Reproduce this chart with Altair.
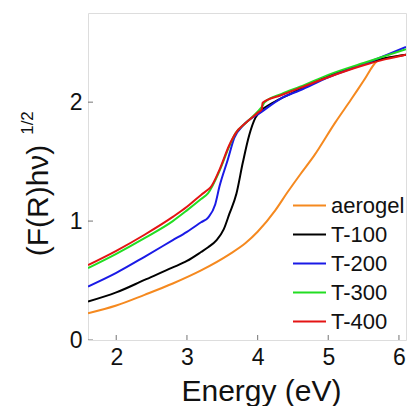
import altair as alt
import pandas as pd

# ---- data ----
series_names = ["aerogel", "T-100", "T-200", "T-300", "T-400"]
series_colors = ["#f5891f", "#000000", "#1a1ae6", "#22dd22", "#e41414"]

aerogel_e = [1.6, 2.0, 2.4, 2.8, 3.2, 3.6, 3.83, 4.0, 4.25, 4.42, 4.6, 4.8, 5.1, 5.32, 5.5, 5.69, 5.8, 5.95, 6.1]
aerogel_v = [0.225, 0.29, 0.38, 0.475, 0.585, 0.72, 0.815, 0.91, 1.09, 1.24, 1.39, 1.55, 1.83, 2.02, 2.18, 2.345, 2.37, 2.385, 2.40]

t100_e = [1.6, 2.0, 2.4, 2.8, 3.0, 3.2, 3.3, 3.42, 3.52, 3.6, 3.7, 3.79, 3.88, 3.97, 4.05, 4.2, 4.5, 5.0, 5.5, 5.8, 6.1]
t100_v = [0.323, 0.40, 0.505, 0.61, 0.665, 0.74, 0.78, 0.84, 0.93, 1.06, 1.23, 1.49, 1.72, 1.87, 1.93, 1.99, 2.08, 2.22, 2.32, 2.37, 2.40]

t200_e = [1.6, 2.0, 2.4, 2.8, 3.0, 3.2, 3.3, 3.4, 3.46, 3.58, 3.67, 3.79, 4.06, 4.34, 4.6, 5.0, 5.5, 6.1]
t200_v = [0.45, 0.565, 0.70, 0.84, 0.91, 0.99, 1.03, 1.14, 1.29, 1.52, 1.70, 1.80, 1.92, 2.035, 2.10, 2.21, 2.32, 2.465]

t300_e = [1.6, 2.0, 2.4, 2.8, 3.0, 3.2, 3.3, 3.46, 3.6, 3.69, 3.83, 4.0, 4.07, 4.1, 4.34, 4.6, 5.0, 5.5, 6.1]
t300_v = [0.605, 0.725, 0.857, 1.0, 1.09, 1.185, 1.235, 1.42, 1.63, 1.74, 1.825, 1.92, 1.97, 2.0, 2.07, 2.13, 2.23, 2.33, 2.445]

t400_e = [1.6, 2.0, 2.4, 2.8, 3.0, 3.2, 3.3, 3.33, 3.46, 3.6, 3.69, 3.83, 4.0, 4.06, 4.07, 4.34, 4.6, 5.0, 5.5, 5.8, 6.1]
t400_v = [0.63, 0.75, 0.885, 1.035, 1.12, 1.22, 1.265, 1.28, 1.43, 1.64, 1.74, 1.825, 1.91, 1.94, 1.995, 2.06, 2.12, 2.21, 2.31, 2.36, 2.40]

x_ticks = [2, 3, 4, 5, 6]
y_ticks = [0, 1, 2]
x_title = "Energy (eV)"
y_title = "(F(R)hν)"
y_title_sup = ["1/2"]

# ---- build table ----
rows = []
for name, es, vs in zip(series_names,
                        [aerogel_e, t100_e, t200_e, t300_e, t400_e],
                        [aerogel_v, t100_v, t200_v, t300_v, t400_v]):
    for i, (e, v) in enumerate(zip(es, vs)):
        rows.append({"series": name, "E": e, "V": v, "i": i})
df = pd.DataFrame(rows)

FONT = "Liberation Sans"
FRAME = "#5a5a5a"
xs = alt.Scale(domain=[1.6, 6.1], nice=False, zero=False)
ys = alt.Scale(domain=[0, 2.75], nice=False, zero=False)

lines = alt.Chart(df).mark_line(strokeWidth=2, clip=True, interpolate="monotone").encode(
    x=alt.X("E:Q", scale=xs,
            axis=alt.Axis(values=x_ticks, format="d", title=x_title, tickSize=0, domain=False, grid=False,
                          labelFontSize=23, labelPadding=6, labelColor="#111",
                          titleFontSize=30, titleFontWeight="normal", titleColor="#111",
                          titleX=173, titleY=60, titleBaseline="alphabetic", titleAlign="center")),
    y=alt.Y("V:Q", scale=ys,
            axis=alt.Axis(values=y_ticks, format="d", title=y_title, tickSize=0, domain=False, grid=False,
                          labelFontSize=23, labelPadding=6, labelColor="#111",
                          titleFontSize=30, titleFontWeight="normal", titleColor="#111",
                          titleAngle=270, titleX=-41, titleY=187,
                          titleBaseline="alphabetic", titleAlign="center")),
    color=alt.Color("series:N",
                    scale=alt.Scale(domain=series_names, range=series_colors),
                    legend=alt.Legend(title=None, orient="none", legendX=204, legendY=175,
                                      symbolType="stroke", symbolSize=1089, symbolStrokeWidth=2,
                                      labelFontSize=22, labelFont=FONT, labelColor="#111",
                                      labelOffset=4, rowPadding=0, padding=0)),
    order=alt.Order("i:Q"),
    detail="series:N",
)

xtick_df = pd.DataFrame({"t": x_ticks})
ytick_df = pd.DataFrame({"t": y_ticks})

xt = alt.Chart(xtick_df).mark_tick(orient="vertical", size=10, thickness=1.2, color=FRAME, clip=True).encode(
    x=alt.X("t:Q", scale=xs), y=alt.datum(0, type="quantitative"))
yt = alt.Chart(ytick_df).mark_tick(orient="horizontal", size=10, thickness=1.2, color=FRAME, clip=True).encode(
    y=alt.Y("t:Q", scale=ys), x=alt.datum(1.6, type="quantitative"))

sup = alt.Chart(pd.DataFrame({"s": y_title_sup})).mark_text(
    angle=270, fontSize=17, font=FONT, color="#111", align="center", baseline="alphabetic"
).encode(text="s:N", x=alt.value(-55), y=alt.value(110))

chart = alt.layer(xt, yt, lines, sup).properties(
    width=318, height=327,
    autosize=alt.AutoSizeParams(type="none"),
    padding={"left": 80, "top": 5, "right": 2, "bottom": 66},
).configure_view(stroke=FRAME, strokeWidth=1.5).configure(font=FONT).configure_axis(
    labelFont=FONT, titleFont=FONT)

chart.save("out.html", embed_options={"renderer": "svg", "actions": False})
